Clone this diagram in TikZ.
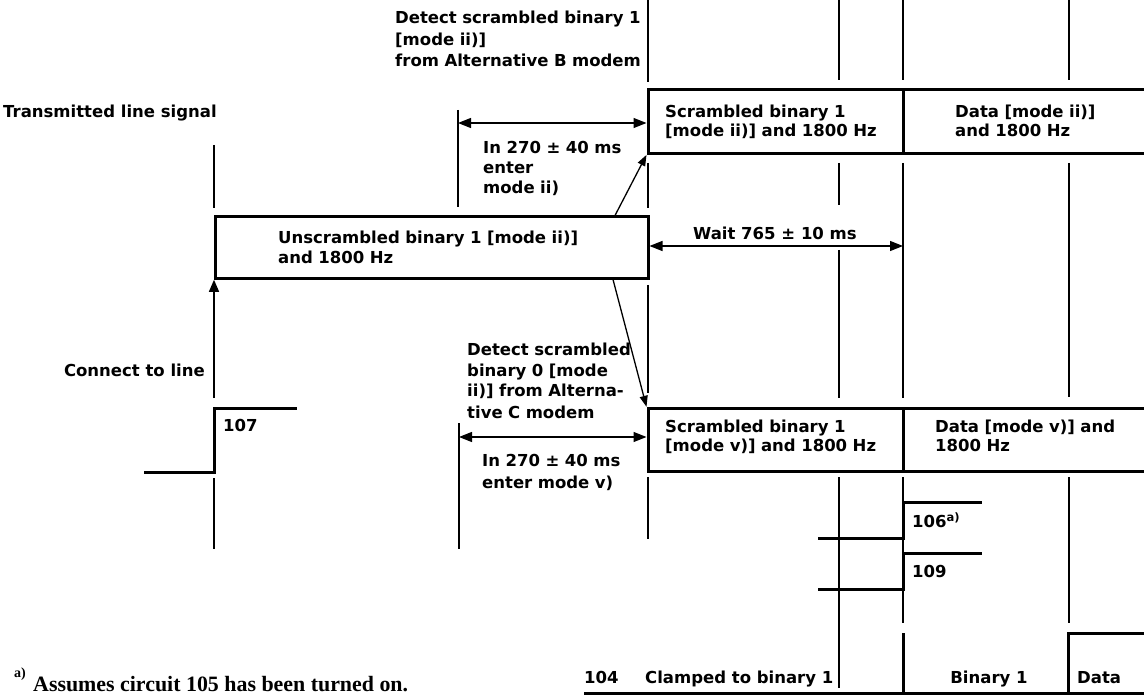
\documentclass[tikz,border=0pt]{standalone}
\usepackage{fontspec}
\setmainfont{DejaVu Sans}
\newfontfamily\fnserif{Liberation Serif}
\usetikzlibrary{arrows.meta}
\begin{document}
\begin{tikzpicture}[x=1pt,y=-1pt,
  txt/.style={font=\fontsize{16.5}{#1}\selectfont\bfseries, inner sep=0pt, anchor=base west, text width=330pt, align=left},
  txt/.default=20pt,
  one/.style={font=\fontsize{16.5}{20}\selectfont\bfseries, inner sep=0pt},
  box/.style={draw, line width=3pt, inner sep=0pt},
  tl/.style={line width=1.3pt},
  sig/.style={line width=3pt},
  arr/.style={line width=1.3pt, -{Triangle[length=12pt,width=10pt]}},
  darr/.style={line width=1.3pt, -{Triangle[length=11pt,width=8pt]}},
  dimarr/.style={line width=1.3pt, {Triangle[length=13pt,width=10pt]}-{Triangle[length=13pt,width=10pt]}},
]
\useasboundingbox (0,0) rectangle (1144,695);
\fill[white] (0,0) rectangle (1144,695);
\clip (0,0) rectangle (1144,695);

% boxes
\node[box, minimum width=433pt, minimum height=61.6pt] (unscr) at (431.5,247.5) {};
\node[box, minimum width=255pt, minimum height=64.3pt] (scr1) at (775.5,121.2) {};
\node[box, minimum width=247pt, minimum height=64.3pt] (dat1) at (1026.5,121.2) {};
\node[box, minimum width=255pt, minimum height=63.4pt] (scr2) at (775.5,440) {};
\node[box, minimum width=247pt, minimum height=63.4pt] (dat2) at (1026.5,440) {};

% texts
\node[one, anchor=base west] (ttrans) at (3,117.3) {Transmitted line signal};
\node[txt=21.3pt] (tdet1) at (395,24) {Detect scrambled binary 1\\{}[mode ii)]\\ from Alternative B modem};
\node[txt=20pt] (tin1) at (483,153.3) {In 270 ± 40 ms\\ enter\\ mode ii)};
\node[txt=19.4pt] (tscr1) at (665,117.3) {Scrambled binary 1\\{}[mode ii)] and 1800 Hz};
\node[txt=19.4pt] (tdat1) at (955,117.3) {Data [mode ii)]\\ and 1800 Hz};
\node[txt=20pt] (tunscr) at (278,244) {Unscrambled binary 1 [mode ii)]\\ and 1800 Hz};
\node[one, anchor=base west] (twait) at (693,240) {Wait 765 ± 10 ms};
\node[one, anchor=base east] (tconn) at (205,376) {Connect to line};
\node[txt=21pt] (tdet0) at (467,355) {Detect scrambled\\ binary 0 [mode\\ ii)] from Alterna-\\ tive C modem};
\node[txt=21.5pt] (tin2) at (482,466.7) {In 270 ± 40 ms\\ enter mode v)};
\node[txt=19.4pt] (tscr2) at (665,432.3) {Scrambled binary 1\\{}[mode v)] and 1800 Hz};
\node[txt=19.7pt] (tdat2) at (935,432) {Data [mode v)] and\\ 1800 Hz};
\node[one, anchor=base west] (t107) at (223,431.7) {107};
\node[one, anchor=base west] (t106) at (912,527.3) {106\textsuperscript{a)}};
\node[one, anchor=base west] (t109) at (912,577.3) {109};
\node[one, anchor=base west] (t104) at (584,683.3) {104};
\node[one, anchor=base west] (tclamp) at (645,683.3) {Clamped to binary 1};
\node[one, anchor=base] (tbin) at (989,683.3) {Binary 1};
\node[one, anchor=base west] (tdata) at (1077,683.3) {Data};
\node[inner sep=0pt, anchor=base west, font=\fnserif\bfseries\fontsize{14}{16}\selectfont] (fna) at (14,677) {a)};
\node[inner sep=0pt, anchor=base west, font=\fnserif\bfseries\fontsize{21.9}{26}\selectfont] (fn) at (33,691) {Assumes circuit 105 has been turned on.};

% thin timing lines
\draw[tl] (214,145) -- (214,208);
\draw[tl] (214,478) -- (214,549);
\draw[tl] (458,110) -- (458,207);
\draw[tl] (459,423) -- (459,549);
\draw[tl] (648,0) -- (648,82);
\draw[tl] (648,163) -- (648,208);
\draw[tl] (648,285) -- (648,393);
\draw[tl] (648,477) -- (648,539);
\draw[tl] (839,0) -- (839,80);
\draw[tl] (839,163) -- (839,205);
\draw[tl] (839,250) -- (839,398);
\draw[tl] (839,477) -- (839,688);
\draw[tl] (903,0) -- (903,80);
\draw[tl] (903,163) -- (903,398);
\draw[tl] (903,477) -- (903,623);
\draw[tl] (1069,0) -- (1069,80);
\draw[tl] (1069,163) -- (1069,397);
\draw[tl] (1069,477) -- (1069,623);

% signals
\draw[sig] (144,472) -- (214,472) -- (214,408) -- (297,408);
\draw[sig] (818,538) -- (903,538) -- (903,502) -- (982,502);
\draw[sig] (818,589) -- (903,589) -- (903,553) -- (982,553);
\draw[sig] (584,693.5) -- (1150,693.5);
\draw[sig] (903,633) -- (903,700);
\draw[sig] (1068,700) -- (1068,633) -- (1150,633);

% connectors
\coordinate (c107) at (214,398);
\draw[arr] (c107) -- (c107 |- unscr.south);
\coordinate (u1) at (615,215.5);
\draw[darr] (u1) -- (scr1.south west);
\coordinate (u2) at (613,279.5);
\draw[darr] (u2) -- (scr2.north west);
\coordinate (dA) at (458,123);
\draw[dimarr] (dA) -- (dA -| scr1.west);
\coordinate (dB) at (459,437);
\draw[dimarr] (dB) -- (dB -| scr2.west);
\coordinate (wR) at (903,246);
\draw[dimarr] (wR -| unscr.east) -- (wR);
\end{tikzpicture}
\end{document}
